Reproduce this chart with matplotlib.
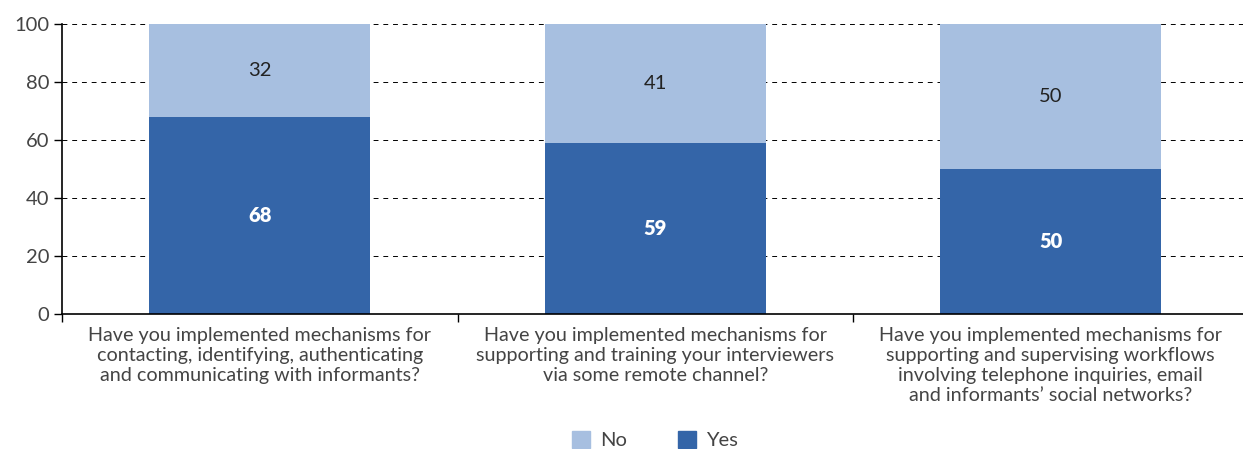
import matplotlib
matplotlib.use("Agg")
import matplotlib.pyplot as plt
from matplotlib.patches import Patch
import numpy as np

categories = [
    "Have you implemented mechanisms for\ncontacting, identifying, authenticating\nand communicating with informants?",
    "Have you implemented mechanisms for\nsupporting and training your interviewers\nvia some remote channel?",
    "Have you implemented mechanisms for\nsupporting and supervising workflows\ninvolving telephone inquiries, email\nand informants\u2019 social networks?",
]
yes_vals = [68, 59, 50]
no_vals = [32, 41, 50]
yticks = [0, 20, 40, 60, 80, 100]

dark = "#3465A8"
light = "#A7BFE0"
txt = "#444444"

plt.rcParams['font.family'] = ['Lato', 'DejaVu Sans']

fig = plt.figure(figsize=(12.43, 4.49), dpi=100)
W, H = 1243, 449
ax = fig.add_axes([62 / W, 1 - 314 / H, (1243 - 62) / W, (314 - 24) / H])

x = np.arange(len(categories))
bw = 0.559
ax.bar(x, yes_vals, bw, color=dark, zorder=3, label="Yes")
ax.bar(x, no_vals, bw, bottom=yes_vals, color=light, zorder=3, label="No")

for xi, y, n in zip(x, yes_vals, no_vals):
    ax.text(xi, y / 2, f"{y}", ha="center", va="center", color="white",
            fontsize=14.5, fontweight="heavy", zorder=4)
    ax.text(xi, y + n / 2, f"{n}", ha="center", va="center", color="#222222",
            fontsize=14.5, zorder=4)

ax.set_xlim(-0.5, -0.5 + 1181 / 395.5)
ax.set_ylim(0, 100)
ax.set_yticks(yticks)
ax.set_yticklabels([str(v) for v in yticks], fontsize=14.5, color=txt)
ax.yaxis.grid(True, color="black", linestyle=(0, (5, 5)), linewidth=0.7, zorder=0)

ax.set_xticks([-0.5, 0.5, 1.5])
ax.set_xticklabels([])
ax.set_xticks(x, minor=True)
ax.set_xticklabels(categories, minor=True, fontsize=14.2, color=txt, linespacing=1.22)
ax.tick_params(axis="x", which="minor", length=0, pad=9)
ax.tick_params(axis="x", which="major", length=6, width=1, color="black")
ax.tick_params(axis="y", length=6, width=1, color="black", pad=3)

for s in ["top", "right"]:
    ax.spines[s].set_visible(False)
ax.spines["left"].set_linewidth(1.2)
ax.spines["bottom"].set_linewidth(1.2)
ax.spines["bottom"].set_zorder(5)

handles = [Patch(color=light, label="No"), Patch(color=dark, label="Yes")]
leg = fig.legend(handles=handles, loc="center", bbox_to_anchor=(655 / W, 1 - 440 / H),
           ncol=2, frameon=False, handlelength=0.9, handleheight=0.9,
           columnspacing=2.5, handletextpad=0.5, labelcolor=txt,
           prop={'size': 14.5})

fig.savefig("out.png", dpi=100)
